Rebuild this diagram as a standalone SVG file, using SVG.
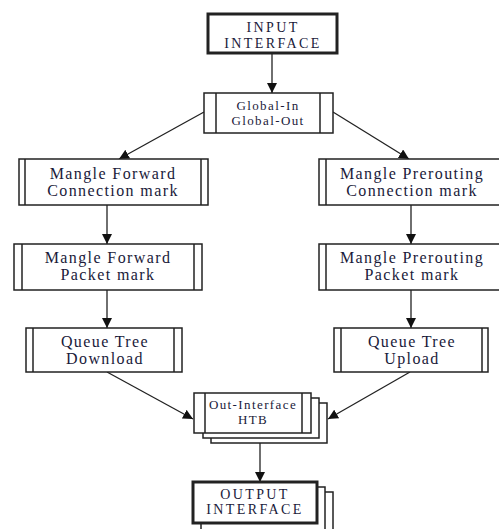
<svg xmlns="http://www.w3.org/2000/svg" width="499" height="529" viewBox="0 0 499 529">
<style>
.box{fill:#fff;stroke:#222;stroke-width:1.5}
.thick{fill:#fff;stroke:#222;stroke-width:3}
.in{stroke:#222;stroke-width:1.5}
.lbl{font-family:"Liberation Serif",serif;font-size:16px;letter-spacing:1.4px;fill:#1a1a3a;text-anchor:middle}
.sm{font-family:"Liberation Serif",serif;font-size:13px;letter-spacing:1.4px;fill:#1a1a3a;text-anchor:middle}
.cap{font-family:"Liberation Serif",serif;font-size:14px;letter-spacing:2.4px;fill:#1a1a3a;text-anchor:middle}
.con{stroke:#222;stroke-width:1.3;fill:none;marker-end:url(#ah)}
</style>
<defs>
<marker id="ah" markerUnits="userSpaceOnUse" markerWidth="10" markerHeight="10" refX="10" refY="5" orient="auto" viewBox="0 0 10 10">
<path d="M0,0 L10,5 L0,10 z" fill="#111"/>
</marker>
</defs>
<rect width="499" height="529" fill="#fff"/>
<g id="connectors">
<line class="con" x1="272" y1="53" x2="272" y2="93"/>
<line class="con" x1="204" y1="112" x2="119" y2="159"/>
<line class="con" x1="333" y1="112" x2="409" y2="159"/>
<line class="con" x1="107" y1="205" x2="107" y2="244"/>
<line class="con" x1="411" y1="205" x2="411" y2="244"/>
<line class="con" x1="107" y1="290" x2="107" y2="328"/>
<line class="con" x1="411" y1="290" x2="411" y2="328"/>
<line class="con" x1="107" y1="372" x2="193" y2="419"/>
<line class="con" x1="410" y1="372" x2="328" y2="419"/>
<line class="con" x1="260" y1="443" x2="260" y2="482"/>
</g>
<g id="input">
<rect class="thick" x="208" y="14" width="129" height="39"/>
<text class="cap" x="273" y="32">INPUT</text>
<text class="cap" x="273" y="48">INTERFACE</text>
</g>
<g id="global">
<rect class="box" x="204" y="93" width="129" height="40"/>
<line class="in" x1="216" y1="93" x2="216" y2="133"/>
<line class="in" x1="320" y1="93" x2="320" y2="133"/>
<text class="sm" x="268" y="110">Global-In</text>
<text class="sm" x="268" y="125">Global-Out</text>
</g>
<g id="mfc">
<rect class="box" x="19" y="159" width="189" height="46"/>
<line class="in" x1="25" y1="159" x2="25" y2="205"/>
<line class="in" x1="201" y1="159" x2="201" y2="205"/>
<text class="lbl" x="113" y="178.5">Mangle Forward</text>
<text class="lbl" x="113" y="196">Connection mark</text>
</g>
<g id="mpc">
<rect class="box" x="319" y="159" width="186" height="46"/>
<line class="in" x1="326" y1="159" x2="326" y2="205"/>
<text class="lbl" x="412" y="178.5">Mangle Prerouting</text>
<text class="lbl" x="412" y="196">Connection mark</text>
</g>
<g id="mfp">
<rect class="box" x="14" y="244" width="188" height="46"/>
<line class="in" x1="22" y1="244" x2="22" y2="290"/>
<line class="in" x1="194" y1="244" x2="194" y2="290"/>
<text class="lbl" x="108" y="262.5">Mangle Forward</text>
<text class="lbl" x="108" y="280">Packet mark</text>
</g>
<g id="mpp">
<rect class="box" x="319" y="244" width="186" height="46"/>
<line class="in" x1="326" y1="244" x2="326" y2="290"/>
<text class="lbl" x="412" y="262.5">Mangle Prerouting</text>
<text class="lbl" x="412" y="280">Packet mark</text>
</g>
<g id="qtd">
<rect class="box" x="26" y="328" width="156" height="44"/>
<line class="in" x1="33" y1="328" x2="33" y2="372"/>
<line class="in" x1="174" y1="328" x2="174" y2="372"/>
<text class="lbl" x="105" y="346.5">Queue Tree</text>
<text class="lbl" x="105" y="364">Download</text>
</g>
<g id="qtu">
<rect class="box" x="334" y="328" width="154" height="44"/>
<line class="in" x1="341" y1="328" x2="341" y2="372"/>
<line class="in" x1="482" y1="328" x2="482" y2="372"/>
<text class="lbl" x="412" y="346.5">Queue Tree</text>
<text class="lbl" x="412" y="364">Upload</text>
</g>
<g id="htb">
<rect class="box" x="211" y="403" width="116" height="40"/>
<rect class="box" x="203" y="398" width="116" height="40"/>
<rect class="box" x="194" y="393" width="117" height="40"/>
<line class="in" x1="205" y1="393" x2="205" y2="433"/>
<line class="in" x1="302" y1="393" x2="302" y2="433"/>
<text class="sm" x="253" y="409">Out-Interface</text>
<text class="sm" x="253" y="424">HTB</text>
</g>
<g id="output">
<rect class="box" x="209" y="492" width="124" height="45"/>
<rect class="box" x="201" y="487" width="124" height="45"/>
<rect class="thick" x="193" y="482" width="124" height="41"/>
<text class="cap" x="255" y="499">OUTPUT</text>
<text class="cap" x="255" y="514">INTERFACE</text>
</g>
</svg>
